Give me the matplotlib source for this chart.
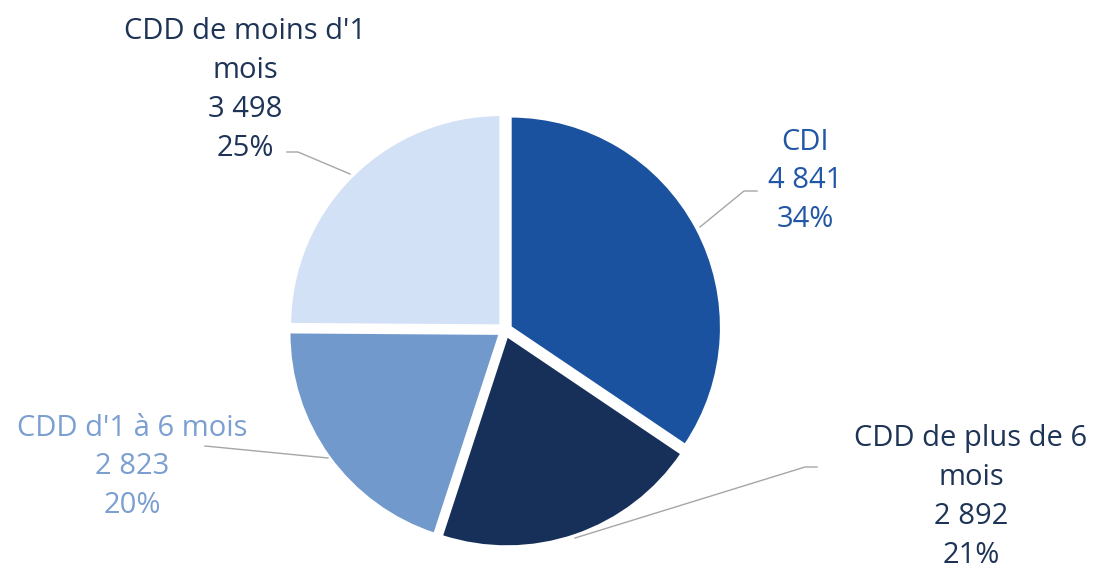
import matplotlib.pyplot as plt

# Données
categories = ["CDI", "CDD de plus de 6\nmois", "CDD d'1 à 6 mois", "CDD de moins d'1\nmois"]
valeurs = [4841, 2892, 2823, 3498]
couleurs = ["#1a52a0", "#17305a", "#7199cc", "#d2e1f5"]
couleurs_texte = ["#2257a5", "#1e3456", "#7b9fd0", "#1e3456"]

H = 575
cx, cy, r = 505, H - 330, 211

fig = plt.figure(figsize=(11.05, 5.75), dpi=100)
ax = fig.add_axes([0, 0, 1, 1])
ax.set_xlim(0, 1105)
ax.set_ylim(0, H)
ax.set_aspect('equal')
ax.axis('off')

# explode en unités de données (pixels ici)
ax.pie(valeurs, colors=couleurs, startangle=90, counterclock=False,
       center=(cx, cy), radius=r, explode=[6] * 4,
       wedgeprops=dict(edgecolor='white', linewidth=2))
ax.set_xlim(0, 1105)
ax.set_ylim(0, H)

total = sum(valeurs)
# positions des étiquettes (x, y en pixels depuis le haut) et lignes de rappel
pos_labels = [(805, 181), (971, 497), (132, 467), (245, 90)]
lignes = [
    [(757, 191), (744, 191), (700, 227)],
    [(817, 467), (805, 467), (575, 538)],
    [(205, 446), (328, 458)],
    [(287, 152), (298, 152), (350, 174)],
]

for cat, v, c, (x, y), pts in zip(categories, valeurs, couleurs_texte, pos_labels, lignes):
    txt = f"{cat}\n{v:,}".replace(",", " ") + f"\n{round(v / total * 100)}%"
    ax.text(x, H - y, txt, ha='center', va='center', color=c,
            fontsize=21, family='Open Sans', linespacing=1.45)
    ax.plot([p[0] for p in pts], [H - p[1] for p in pts], color='#a6a6a6', lw=1)

fig.savefig('out.png', dpi=100)
